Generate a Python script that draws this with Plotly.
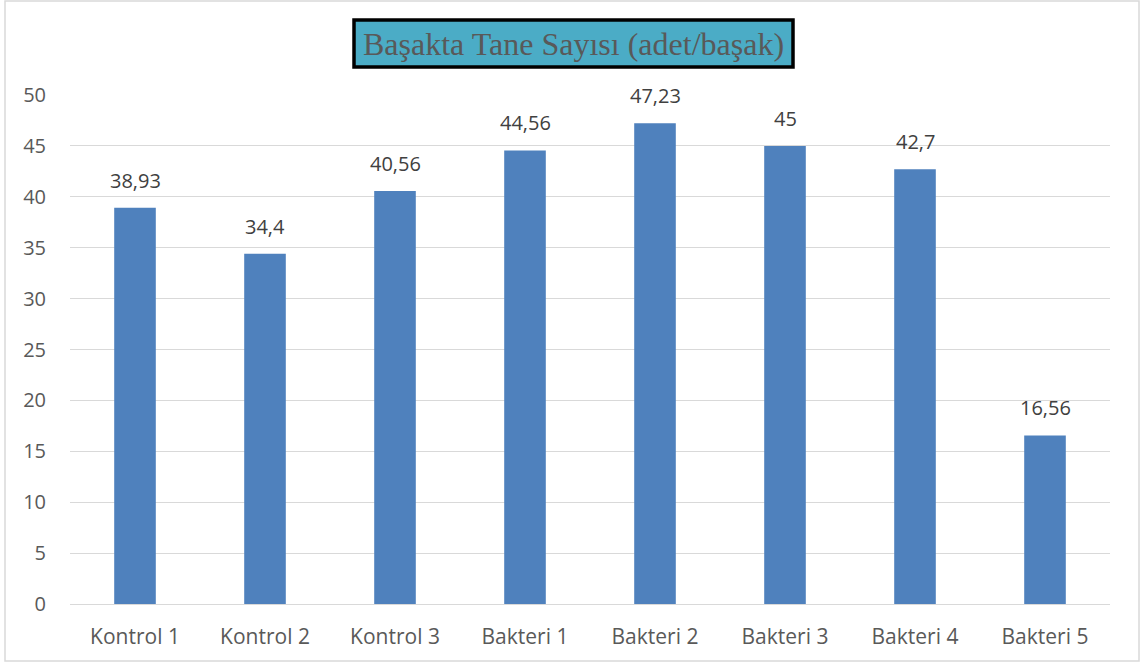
import plotly.graph_objects as go

# Grain count per spike for each treatment
categories = ["Kontrol 1", "Kontrol 2", "Kontrol 3", "Bakteri 1",
              "Bakteri 2", "Bakteri 3", "Bakteri 4", "Bakteri 5"]
values = [38.93, 34.4, 40.56, 44.56, 47.23, 45, 42.7, 16.56]
y_ticks = [0, 5, 10, 15, 20, 25, 30, 35, 40, 45, 50]

title_text = "Başakta Tane Sayısı (adet/başak)"

labels = [f"{v:g}".replace(".", ",") for v in values]

W, H = 1144, 663
L, R, T, B = 70, 34, 95, 59
pw, ph = W - L - R, H - T - B


def px_x(x):
    return (x - L) / pw


def px_y(y):
    return (H - B - y) / ph


fig = go.Figure(
    go.Bar(
        x=categories,
        y=values,
        marker=dict(color="#4F81BD", line=dict(width=0)),
        hoverinfo="x+y",
    )
)

# value labels above each bar
value_annotations = [
    dict(x=c, y=v, xref="x", yref="y", text=t, showarrow=False,
         xanchor="center", yanchor="bottom", yshift=12,
         font=dict(family="Open Sans, sans-serif", size=20, color="#404040"))
    for c, v, t in zip(categories, values, labels)
]

fig.update_layout(
    width=W,
    height=H,
    margin=dict(l=L, r=R, t=T, b=B),
    paper_bgcolor="white",
    plot_bgcolor="white",
    bargap=0.68,
    showlegend=False,
    font=dict(family="Open Sans, sans-serif", color="#595959", size=20),
    xaxis=dict(
        showgrid=False,
        showline=True,
        linecolor="#D9D9D9",
        linewidth=1,
        ticks="",
        ticklabelstandoff=14,
        tickfont=dict(size=21, color="#595959"),
        fixedrange=True,
    ),
    yaxis=dict(
        range=[0, 50],
        tickvals=y_ticks,
        showgrid=True,
        gridcolor="#D9D9D9",
        gridwidth=1,
        zeroline=False,
        showline=False,
        ticks="",
        ticklabelstandoff=23,
        tickfont=dict(size=20, color="#595959"),
        fixedrange=True,
    ),
    shapes=[
        # outer chart frame
        dict(type="rect", xref="paper", yref="paper",
             x0=px_x(5), x1=px_x(1139), y0=px_y(661), y1=px_y(1),
             line=dict(color="#D9D9D9", width=1.5), fillcolor="rgba(0,0,0,0)",
             layer="below"),
        # title box
        dict(type="rect", xref="paper", yref="paper",
             x0=px_x(354), x1=px_x(793), y0=px_y(67), y1=px_y(20),
             line=dict(color="black", width=3.5), fillcolor="#4BACC6"),
    ],
    annotations=value_annotations + [
        dict(text=title_text, xref="paper", yref="paper",
             x=(px_x(354) + px_x(793)) / 2, y=(px_y(67) + px_y(20)) / 2,
             xanchor="center", yanchor="middle", showarrow=False,
             font=dict(family="Liberation Serif, Times New Roman, serif",
                       size=32, color="#595959")),
    ],
)

fig.write_html("out.html")
